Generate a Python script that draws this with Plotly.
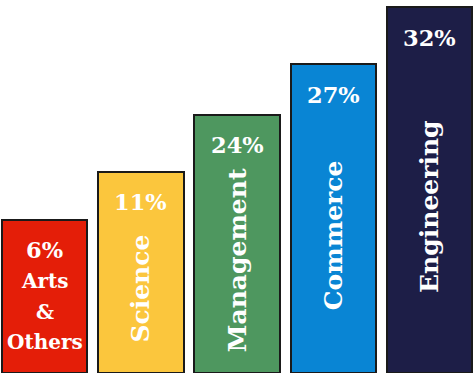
import plotly.graph_objects as go

categories = ["Arts & Others", "Science", "Management", "Commerce", "Engineering"]
shares = [6, 11, 24, 27, 32]
bar_heights = [41.9, 55.1, 70.7, 84.4, 100]  # visual bar heights (tallest = 100)
colors = ["#E41E08", "#FBC63D", "#4E975F", "#0985D4", "#1D1E47"]

FONT = "DejaVu Serif"

fig = go.Figure()
fig.add_trace(go.Bar(
    x=list(range(len(categories))),
    y=bar_heights,
    width=0.887,
    marker=dict(color=colors, line=dict(color="#1a1a1a", width=2)),
    hoverinfo="skip",
))

annotations = []
for i, (cat, s, h) in enumerate(zip(categories, shares, bar_heights)):
    pct_y = h - 8.3
    annotations.append(dict(
        x=i, y=pct_y, xref="x", yref="y", text=f"<b>{s}%</b>", showarrow=False,
        font=dict(family=FONT, size=22.5, color="white"), yanchor="middle", xanchor="center",
    ))
    if i == 0:
        parts = cat.split(" ")
        for k, p in enumerate(parts):
            annotations.append(dict(
                x=i, y=pct_y - 8.4 * (k + 1), xref="x", yref="y", text=f"<b>{p}</b>",
                showarrow=False, font=dict(family=FONT, size=20, color="white"),
                yanchor="middle", xanchor="center",
            ))
    else:
        annotations.append(dict(
            x=i, y=(h - 9) / 2, xref="x", yref="y", text=f"<b>{cat}</b>", showarrow=False,
            textangle=-90, font=dict(family=FONT, size=25, color="white"),
            yanchor="middle", xanchor="center",
        ))

fig.update_layout(
    width=474, height=379,
    margin=dict(l=1, r=1, t=6, b=6),
    paper_bgcolor="white", plot_bgcolor="white",
    showlegend=False,
    bargap=0,
    xaxis=dict(range=[-0.455, 4.455], visible=False, fixedrange=True),
    yaxis=dict(range=[0, 100.4], visible=False, fixedrange=True),
    annotations=annotations,
)

fig.write_html("out.html", config={"displayModeBar": False})
